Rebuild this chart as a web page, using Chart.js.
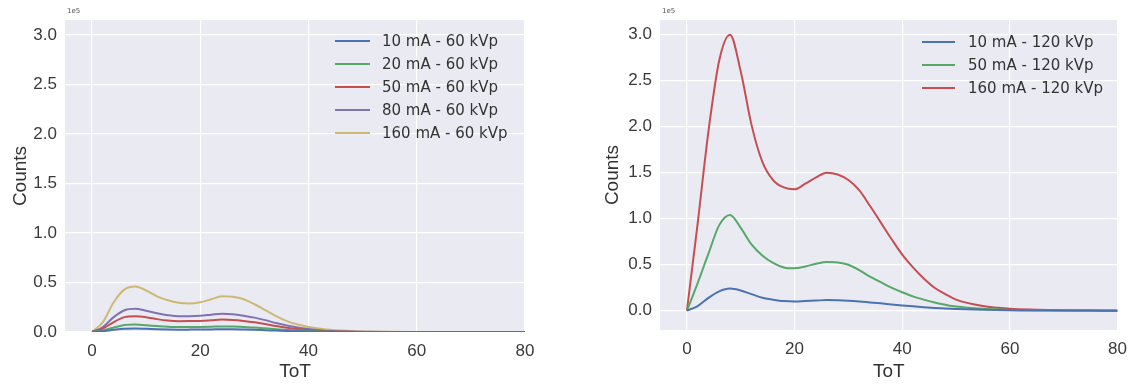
<!DOCTYPE html>
<html><head><meta charset="utf-8">
<script src="https://cdn.jsdelivr.net/npm/chart.js@4"></script>
<style>
html,body{margin:0;padding:0;background:#fff;}
#wrap{position:relative;width:1136px;height:385px;overflow:hidden;background:#fff;}
.box{position:absolute;top:0;width:560px;height:385px;}
.leg{position:absolute;font-family:"DejaVu Sans",sans-serif;font-size:15px;color:#333;}
.row{display:flex;align-items:center;height:23px;white-space:nowrap;}
.sw{display:inline-block;height:2px;}
.off{position:absolute;font-family:"DejaVu Sans",sans-serif;font-size:7px;color:#555;}
</style></head>
<body>
<div id="wrap">
  <div class="box" style="left:0"><canvas id="c1"></canvas></div>
  <div class="box" style="left:576px"><canvas id="c2"></canvas></div>
  <div class="off" style="left:67px;top:7px">1e5</div>
  <div class="off" style="left:662px;top:7px">1e5</div>
  <div class="leg" id="leg1" style="left:335px;top:29px"></div>
  <div class="leg" id="leg2" style="left:922px;top:30px"></div>
</div>
<script>
// ToT sample positions
const totX = [0,2,4,6,8,10,12,14,16,18,20,22,24,26,28,30,32,34,36,38,40,42,44,46,48,50,55,60,65,70,75,80];
const xTicks = [0,20,40,60,80];
const yTicks = [0,0.5,1.0,1.5,2.0,2.5,3.0];

// 60 kVp series (counts, units of 1e5)
const names60 = ["10 mA - 60 kVp","20 mA - 60 kVp","50 mA - 60 kVp","80 mA - 60 kVp","160 mA - 60 kVp"];
const s10_60  = [0,0.008,0.022,0.033,0.035,0.032,0.028,0.025,0.0235,0.024,0.025,0.026,0.028,0.0275,0.025,0.022,0.018,0.014,0.010,0.007,0.005,0.003,0.002,0.001,0.0005,0,0,0,0,0,0,0];
const s20_60  = [0,0.015,0.045,0.070,0.075,0.068,0.060,0.053,0.0495,0.050,0.051,0.053,0.056,0.055,0.050,0.045,0.037,0.028,0.020,0.014,0.009,0.005,0.003,0.002,0.001,0,0,0,0,0,0,0];
const s50_60  = [0,0.035,0.10,0.15,0.16,0.15,0.13,0.115,0.109,0.11,0.112,0.118,0.125,0.122,0.112,0.098,0.080,0.060,0.043,0.030,0.020,0.012,0.007,0.004,0.002,0.001,0,0,0,0,0,0];
const s80_60  = [0,0.05,0.15,0.22,0.235,0.215,0.19,0.17,0.159,0.16,0.165,0.175,0.185,0.18,0.165,0.145,0.12,0.09,0.065,0.045,0.03,0.018,0.010,0.006,0.004,0.002,0,0,0,0,0,0];
const s160_60 = [0,0.10,0.30,0.43,0.46,0.42,0.36,0.32,0.295,0.288,0.30,0.33,0.36,0.355,0.33,0.28,0.22,0.16,0.11,0.075,0.05,0.035,0.022,0.014,0.009,0.006,0.002,0.001,0,0,0,0];

// 120 kVp series (counts, units of 1e5)
const names120 = ["10 mA - 120 kVp","50 mA - 120 kVp","160 mA - 120 kVp"];
const s10_120  = [0,0.05,0.14,0.21,0.24,0.22,0.18,0.14,0.12,0.105,0.10,0.105,0.11,0.115,0.113,0.108,0.10,0.09,0.08,0.068,0.057,0.047,0.038,0.030,0.024,0.019,0.010,0.005,0.003,0.002,0.001,0];
const s50_120  = [0,0.30,0.62,0.93,1.04,0.90,0.72,0.60,0.52,0.47,0.46,0.48,0.51,0.53,0.525,0.50,0.44,0.37,0.31,0.25,0.20,0.155,0.12,0.09,0.065,0.045,0.02,0.008,0.004,0.002,0.001,0];
const s160_120 = [0,0.95,1.95,2.72,3.00,2.60,2.02,1.62,1.42,1.34,1.32,1.38,1.45,1.50,1.48,1.42,1.31,1.14,0.96,0.78,0.61,0.47,0.35,0.25,0.18,0.12,0.05,0.02,0.01,0.005,0.002,0.001];

const deep = {blue:"#4C72B0", green:"#55A868", red:"#C44E52", purple:"#8172B2", yellow:"#CCB974"};
const colors60 = [deep.blue, deep.green, deep.red, deep.purple, deep.yellow];
const colors120 = [deep.blue, deep.green, deep.red];

const bgPlugin = {
  id:'bg',
  beforeDraw(chart){
    const {ctx, chartArea:a} = chart;
    ctx.save(); ctx.fillStyle = '#EAEAF2';
    ctx.fillRect(a.left, a.top, a.right-a.left, a.bottom-a.top);
    ctx.restore();
  }
};

function makeChart(id, series, names, colors, o){
  const datasets = series.map((s,i)=>({
    label: names[i],
    data: totX.map((x,j)=>({x:x, y:s[j]})),
    borderColor: colors[i], borderWidth: 2, pointRadius: 0,
    cubicInterpolationMode:'monotone', fill:false
  }));
  const tickFont = {family:'"Liberation Sans", Arial, sans-serif', size:17};
  const titleFont = {family:'"Liberation Sans", Arial, sans-serif', size:19};
  return new Chart(document.getElementById(id), {
    type:'line',
    data:{datasets},
    plugins:[bgPlugin],
    options:{
      responsive:false, animation:false, maintainAspectRatio:false,
      layout:{padding:{top:20, right:o.padRight, bottom:0, left:0}},
      plugins:{legend:{display:false}, tooltip:{enabled:false}},
      scales:{
        x:{type:'linear', min:-5, max:80,
           afterBuildTicks(s){ s.ticks = xTicks.map(v=>({value:v})); },
           afterFit(s){ s.height = o.xH; },
           grid:{color:'#ffffff', lineWidth:1.2, drawTicks:false},
           border:{display:false},
           ticks:{color:'#3a3a3a', font:tickFont, padding:9, maxRotation:0},
           title:{display:true, text:'ToT', color:'#333', font:titleFont, padding:{top:0,bottom:2}}
        },
        y:{type:'linear', min:o.yMin, max:o.yMax,
           afterBuildTicks(s){ s.ticks = yTicks.map(v=>({value:v})); },
           afterFit(s){ s.width = o.yW; },
           grid:{color:'#ffffff', lineWidth:1.2, drawTicks:false},
           border:{display:false},
           ticks:{color:'#3a3a3a', font:tickFont, padding:8, callback:v=>Number(v).toFixed(1)},
           title:{display:true, text:'Counts', color:'#333', font:titleFont, padding:{top:o.tPad,bottom:0}}
        }
      }
    }
  });
}

function sizeCanvas(id){
  const c = document.getElementById(id);
  c.width = 560; c.height = 385; c.style.width='560px'; c.style.height='385px';
}
sizeCanvas('c1'); sizeCanvas('c2');

makeChart('c1', [s10_60,s20_60,s50_60,s80_60,s160_60], names60, colors60,
  {yMin:0, yMax:3.15, yW:65, xH:53, padRight:35, tPad:9});
makeChart('c2', [s10_120,s50_120,s160_120], names120, colors120,
  {yMin:-0.21, yMax:3.16, yW:84, xH:55, padRight:16, tPad:25});

function buildLegend(id, names, colors, lineW, gap){
  const el = document.getElementById(id);
  names.forEach((n,i)=>{
    const r = document.createElement('div'); r.className='row';
    const sw = document.createElement('span'); sw.className='sw';
    sw.style.width = lineW+'px'; sw.style.background = colors[i]; sw.style.marginRight = gap+'px';
    const t = document.createElement('span'); t.textContent = n;
    r.appendChild(sw); r.appendChild(t); el.appendChild(r);
  });
}
buildLegend('leg1', names60, colors60, 35, 12);
buildLegend('leg2', names120, colors120, 33, 13);
</script>
</body></html>
